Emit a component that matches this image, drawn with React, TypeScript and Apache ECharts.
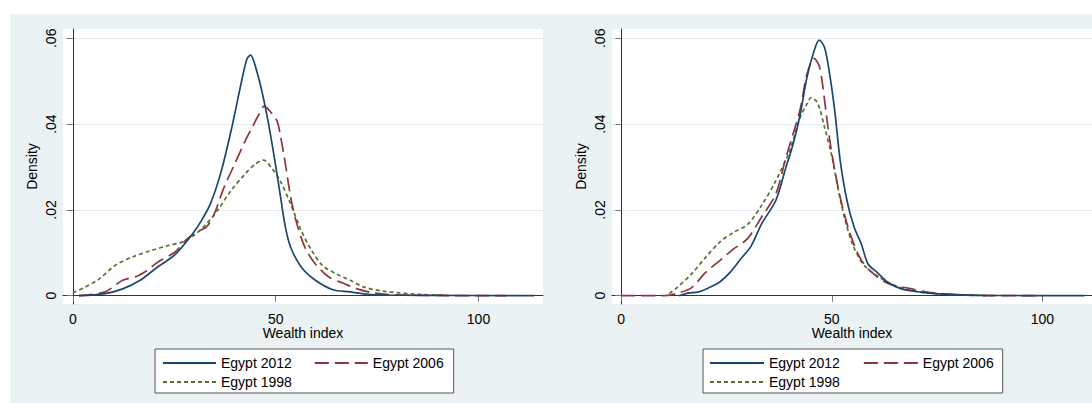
import React, { useEffect, useRef } from "react";
import * as echarts from "echarts";

const SERIES_NAMES = ["Egypt 2012", "Egypt 2006", "Egypt 1998"];
const X_TICKS = [0, 50, 100];
const Y_TICKS = [0, 0.02, 0.04, 0.06];
const X_TITLE = "Wealth index";
const Y_TITLE = "Density";

// Left panel
const L2012_X = [1.5, 7.9, 12.3, 16.6, 20.9, 25.2, 29.5, 31.7, 33.9, 36.4, 39.0, 41.6, 42.9, 43.8, 44.6, 46.4, 48.1, 49.8, 51.1, 52.4, 53.7, 56.3, 59.8, 64.1, 68.4, 72.7, 77.0, 85.7, 113.7];
const L2012_Y = [0, 0.0005, 0.0016, 0.0036, 0.0067, 0.0096, 0.0144, 0.0175, 0.0214, 0.0284, 0.0384, 0.05, 0.0551, 0.0561, 0.0547, 0.0485, 0.0408, 0.0315, 0.0237, 0.016, 0.0113, 0.0067, 0.0036, 0.0014, 0.0009, 0.0003, 0.00015, 0.0001, 0];
const L2006_X = [1.5, 7.9, 12.3, 15.7, 18.3, 20.9, 25.2, 27.8, 30.4, 32.9, 34.7, 37.3, 39.9, 42.5, 44.2, 45.9, 47.2, 48.5, 50.3, 51.1, 52.4, 53.7, 55.0, 57.2, 59.8, 63.2, 66.7, 70.1, 74.4, 81.3, 106.8];
const L2006_Y = [0, 0.0009, 0.0036, 0.0045, 0.0059, 0.0078, 0.0102, 0.0129, 0.0148, 0.016, 0.0187, 0.0253, 0.0307, 0.0361, 0.0392, 0.0423, 0.0442, 0.0431, 0.0408, 0.0377, 0.0307, 0.023, 0.0175, 0.0113, 0.0074, 0.0043, 0.0029, 0.0016, 0.0006, 0.00015, 0];
const L1998_X = [0, 2.8, 6.2, 10.5, 14.9, 19.2, 23.5, 26.9, 30.0, 32.9, 35.6, 39.0, 42.5, 45.0, 47.0, 48.9, 51.1, 53.7, 56.3, 58.9, 61.5, 64.9, 68.4, 71.8, 77.0, 85.7, 92.1];
const L1998_Y = [0.0007, 0.0019, 0.0037, 0.0071, 0.0091, 0.0105, 0.0117, 0.0125, 0.0142, 0.0167, 0.0198, 0.0245, 0.0284, 0.0307, 0.0316, 0.0299, 0.0268, 0.0214, 0.0152, 0.0105, 0.0071, 0.0051, 0.0036, 0.002, 0.001, 0.0003, 0.0001];

// Right panel
const R2012_X = [13.7, 15.9, 18.4, 20.9, 23.4, 25.9, 28.4, 30.8, 33.3, 36.7, 39.1, 40.8, 42.5, 44.1, 45.8, 47.0, 48.3, 49.5, 50.7, 52.0, 53.6, 55.3, 57.0, 58.6, 60.7, 63.2, 66.5, 71.5, 77.3, 85.6, 110.0];
const R2012_Y = [0, 0.0006, 0.0009, 0.0019, 0.0032, 0.0055, 0.0086, 0.0115, 0.0167, 0.0222, 0.0299, 0.0353, 0.0423, 0.0509, 0.0571, 0.0596, 0.0578, 0.0516, 0.0431, 0.0315, 0.0222, 0.016, 0.0121, 0.0074, 0.0055, 0.0032, 0.0016, 0.0008, 0.0003, 0.0001, 0];
const R2006_X = [0, 10.1, 13.4, 16.7, 20.1, 23.4, 26.7, 30.0, 33.3, 36.7, 39.1, 40.8, 42.5, 44.1, 45.8, 47.0, 47.8, 49.1, 50.3, 52.0, 54.1, 56.6, 59.0, 63.2, 69.0, 73.1, 81.4, 100.1];
const R2006_Y = [0, 0, 0.0006, 0.0019, 0.0055, 0.0082, 0.0109, 0.0133, 0.0183, 0.0237, 0.0322, 0.0377, 0.0435, 0.0516, 0.0553, 0.0536, 0.0493, 0.0392, 0.0315, 0.0229, 0.0152, 0.009, 0.0059, 0.0029, 0.0016, 0.0008, 0.00015, 0];
const R1998_X = [11.4, 13.4, 16.7, 20.1, 23.4, 26.7, 30.0, 33.3, 36.7, 40.0, 42.5, 44.1, 45.1, 46.6, 48.3, 49.9, 51.6, 53.2, 54.9, 57.4, 60.7, 64.8, 69.0, 73.1, 81.4, 88.1];
const R1998_Y = [0.0005, 0.002, 0.0051, 0.009, 0.0125, 0.0148, 0.0166, 0.021, 0.0268, 0.0338, 0.0416, 0.0447, 0.0462, 0.045, 0.0392, 0.033, 0.0245, 0.0175, 0.0121, 0.0074, 0.0047, 0.0024, 0.0012, 0.0006, 0.00015, 0];

const FONT = "Liberation Sans, Arial, sans-serif";
const COLORS = ["#1a476f", "#90353b", "#55752f"];
const DASHES: any[] = ["solid", [14, 6], [4, 3]];

const zip = (xs: number[], ys: number[]) => xs.map((x, i) => [x, ys[i]]);

const fmtY = (v: number) => (v === 0 ? "0" : v.toFixed(2).replace(/^0/, ""));

function makeXAxis(gridIndex: number, min: number, max: number) {
  return {
    type: "value",
    gridIndex,
    min,
    max,
    name: X_TITLE,
    nameLocation: "middle",
    nameGap: 23,
    nameMoveOverlap: false,
    nameTextStyle: { color: "#000", fontSize: 14, lineHeight: 12, fontFamily: FONT },
    axisLine: { show: true, lineStyle: { color: "#333", width: 1 } },
    axisTick: { show: true, inside: false, length: 6, customValues: X_TICKS, lineStyle: { color: "#777" } },
    axisLabel: { show: true, customValues: X_TICKS, margin: 9, color: "#000", fontSize: 14, lineHeight: 12, fontFamily: FONT, hideOverlap: false, showMinLabel: true, showMaxLabel: true },
    splitLine: { show: false },
  };
}

function makeYAxis(gridIndex: number) {
  return {
    type: "value",
    gridIndex,
    min: -0.00193,
    max: 0.06217,
    name: Y_TITLE,
    nameLocation: "middle",
    nameRotate: 90,
    nameGap: 24,
    nameTextStyle: { color: "#000", fontSize: 14, fontFamily: FONT },
    axisLine: { show: true, lineStyle: { color: "#333", width: 1 } },
    axisTick: { show: true, inside: false, length: 6, customValues: Y_TICKS, lineStyle: { color: "#777" } },
    axisLabel: { show: true, customValues: Y_TICKS, rotate: 90, margin: 5, color: "#000", fontSize: 14, fontFamily: FONT, formatter: fmtY },
    splitLine: { show: true, lineStyle: { color: "#e3ebee", width: 1 } },
  };
}

function makeSeries(idx: number, xs: number[], ys: number[], k: number) {
  return {
    type: "line",
    name: SERIES_NAMES[k],
    xAxisIndex: idx,
    yAxisIndex: idx,
    data: zip(xs, ys),
    showSymbol: false,
    symbol: "none",
    smooth: 0.3,
    lineStyle: { color: COLORS[k], width: 1.7, type: DASHES[k] },
    itemStyle: { color: COLORS[k] },
    z: 3 - k,
  };
}

function makeLegends(left: number, itemWidth: number, gap: number, padLeft: number, padRight: number) {
  const text = { color: "#000", fontSize: 14, fontFamily: FONT, lineHeight: 14 };
  const hideSymbol = { opacity: 0, borderWidth: 0 };
  return [
    {
      left,
      top: 335,
      orient: "horizontal",
      data: [SERIES_NAMES[0], SERIES_NAMES[1]],
      itemWidth,
      itemHeight: 14,
      itemGap: gap,
      padding: [7, padRight, 23, padLeft],
      borderColor: "#555",
      borderWidth: 1,
      borderRadius: 0,
      backgroundColor: "#fff",
      itemStyle: hideSymbol,
      textStyle: text,
      selectedMode: false,
      z: 4,
    },
    {
      left: left + padLeft,
      top: 361,
      orient: "horizontal",
      data: [SERIES_NAMES[2]],
      itemWidth,
      itemHeight: 14,
      padding: 0,
      borderWidth: 0,
      backgroundColor: "transparent",
      itemStyle: hideSymbol,
      textStyle: text,
      selectedMode: false,
      z: 6,
    },
  ];
}

export default function App() {
  const ref = useRef<HTMLDivElement>(null);

  useEffect(() => {
    if (!ref.current) return;
    const chart = echarts.init(ref.current, null, { renderer: "svg" });
    chart.setOption({
      animation: false,
      backgroundColor: "#eaf2f3",
      textStyle: { fontFamily: FONT },
      grid: [
        { left: 53, top: 15, width: 480, height: 275, show: true, backgroundColor: "#ffffff", borderWidth: 0 },
        { left: 602, top: 15, width: 480, height: 275, show: true, backgroundColor: "#ffffff", borderWidth: 0 },
      ],
      xAxis: [makeXAxis(0, -2.42, 115.9), makeXAxis(1, -2.2, 111.8)],
      yAxis: [makeYAxis(0), makeYAxis(1)],
      legend: [...makeLegends(145, 53, 22, 7, 10), ...makeLegends(693, 54, 23, 6, 9)],
      series: [
        makeSeries(0, L2012_X, L2012_Y, 0),
        makeSeries(0, L2006_X, L2006_Y, 1),
        makeSeries(0, L1998_X, L1998_Y, 2),
        makeSeries(1, R2012_X, R2012_Y, 0),
        makeSeries(1, R2006_X, R2006_Y, 1),
        makeSeries(1, R1998_X, R1998_Y, 2),
      ],
    });
    return () => chart.dispose();
  }, []);

  return (
    <div style={{ position: "absolute", left: 0, top: 0, width: 1092, height: 403, background: "#ffffff", overflow: "hidden" }}>
      <div ref={ref} style={{ position: "absolute", left: 10, top: 14, width: 1082, height: 389 }} />
    </div>
  );
}
